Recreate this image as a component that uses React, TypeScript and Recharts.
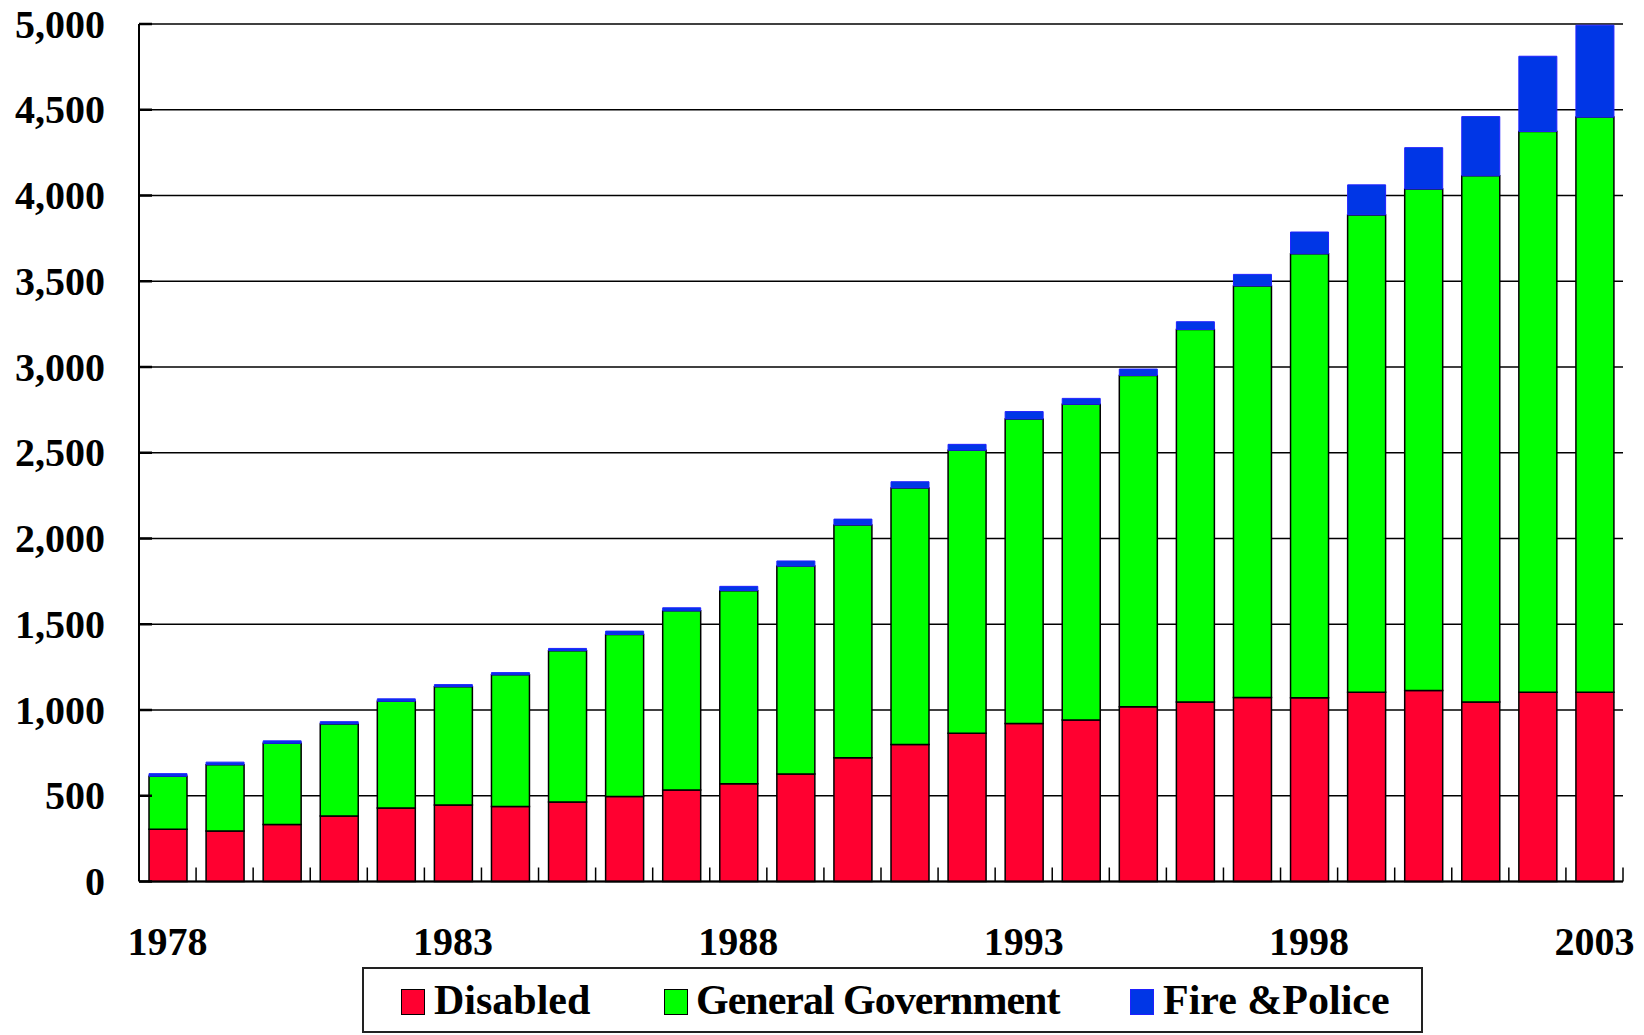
import React from "react";
import { BarChart, Bar, XAxis, YAxis, CartesianGrid } from "recharts";

const years = [
  "1978", "1979", "1980", "1981", "1982", "1983", "1984", "1985", "1986",
  "1987", "1988", "1989", "1990", "1991", "1992", "1993", "1994", "1995",
  "1996", "1997", "1998", "1999", "2000", "2001", "2002", "2003",
];
const disabled = [
  305, 295, 333, 382, 428, 446, 437, 464, 495, 534, 570, 627, 722, 799, 865,
  922, 942, 1019, 1047, 1073, 1072, 1103, 1113, 1046, 1103, 1103,
];
const generalGov = [
  309, 386, 473, 537, 623, 690, 768, 882, 945, 1044, 1126, 1212, 1357, 1496,
  1650, 1775, 1841, 1932, 2172, 2400, 2588, 2784, 2925, 3069, 3270, 3354,
];
const firePolice = [
  15, 15, 14, 13, 14, 12, 13, 13, 20, 18, 25, 30, 34, 36, 34, 43, 34, 37, 45,
  67, 127, 175, 241, 345, 439, 536,
];
const yTicks = [0, 500, 1000, 1500, 2000, 2500, 3000, 3500, 4000, 4500, 5000];
const seriesNames = ["Disabled", "General Government", "Fire &Police"];

const data = years.map((year, i) => ({
  year,
  disabled: disabled[i],
  general: generalGov[i],
  fire: firePolice[i],
}));

const FONT = "'Liberation Serif', 'Times New Roman', serif";
const RED = "#FF0030";
const GREEN = "#00FF00";
const BLUE = "#0036E6";

// wrapper is pulled up/left by the body margin so chart coords = page coords
const CHART_W = 1638;
const CHART_H = 968;
const Y_W = 139;
const M_TOP = 24;
const M_RIGHT = 15;
const PLOT_H = 857.5;
const X_H = CHART_H - M_TOP - PLOT_H;
const BAND = (CHART_W - Y_W - M_RIGHT) / years.length;

function XTick(props: any) {
  const { x, y, payload, index } = props;
  return (
    <g>
      <line x1={x + BAND / 2} x2={x + BAND / 2} y1={y} y2={y - 14} stroke="#000" strokeWidth={1.5} />
      {index % 5 === 0 && (
        <text
          x={x}
          y={y + 60}
          textAnchor="middle"
          dominantBaseline="central"
          fontFamily={FONT}
          fontWeight="bold"
          fontSize={40}
          fill="#000"
        >
          {payload.value}
        </text>
      )}
    </g>
  );
}

function YTick(props: any) {
  const { x, y, payload } = props;
  return (
    <g>
      <line x1={x} x2={x + 13} y1={y} y2={y} stroke="#000" strokeWidth={2.5} />
      <text
        x={x - 34}
        y={y}
        textAnchor="end"
        dominantBaseline="central"
        fontFamily={FONT}
        fontWeight="bold"
        fontSize={40}
        fill="#000"
      >
        {payload.value.toLocaleString("en-US")}
      </text>
    </g>
  );
}

const legendItems = [
  { name: seriesNames[0], color: RED, border: "#000", sw: 37, tx: 70, ls: 0 },
  { name: seriesNames[1], color: GREEN, border: "#000", sw: 300, tx: 332, ls: -1 },
  { name: seriesNames[2], color: BLUE, border: "#2020ff", sw: 766, tx: 799, ls: 0 },
];

export default function App() {
  return (
    <div style={{ position: "relative", top: -8, left: -8, width: CHART_W, height: 1035 }}>
      <BarChart
        width={CHART_W}
        height={CHART_H}
        data={data}
        margin={{ top: M_TOP, right: M_RIGHT, left: 0, bottom: 0 }}
        barSize={38}
      >
        <CartesianGrid vertical={false} stroke="#000" strokeWidth={1.5} />
        <XAxis
          dataKey="year"
          interval={0}
          height={X_H}
          tickSize={0}
          tickMargin={0}
          tickLine={false}
          axisLine={{ stroke: "#000", strokeWidth: 2 }}
          tick={<XTick />}
        />
        <YAxis
          width={Y_W}
          domain={[0, 5000]}
          ticks={yTicks}
          interval={0}
          tickSize={0}
          tickMargin={0}
          tickLine={false}
          axisLine={{ stroke: "#000", strokeWidth: 2 }}
          tick={<YTick />}
        />
        <Bar dataKey="disabled" name={seriesNames[0]} stackId="a" fill={RED} stroke="#000" strokeWidth={1.5} isAnimationActive={false} />
        <Bar dataKey="general" name={seriesNames[1]} stackId="a" fill={GREEN} stroke="#000" strokeWidth={1.5} isAnimationActive={false} />
        <Bar dataKey="fire" name={seriesNames[2]} stackId="a" fill={BLUE} stroke="#2020ff" strokeWidth={1} isAnimationActive={false} />
      </BarChart>
      <div
        style={{
          position: "absolute",
          left: 362,
          top: 967,
          width: 1057,
          height: 62,
          border: "2px solid #222",
          background: "#fff",
        }}
      >
        {legendItems.map((it) => (
          <React.Fragment key={it.name}>
            <div
              style={{
                position: "absolute",
                left: it.sw,
                top: 20,
                width: 22,
                height: 24,
                background: it.color,
                border: `1px solid ${it.border}`,
              }}
            />
            <div
              style={{
                position: "absolute",
                left: it.tx,
                top: 0,
                height: 62,
                lineHeight: "62px",
                fontFamily: FONT,
                fontWeight: "bold",
                fontSize: 42,
                letterSpacing: it.ls,
                whiteSpace: "pre",
              }}
            >
              {it.name}
            </div>
          </React.Fragment>
        ))}
      </div>
    </div>
  );
}
